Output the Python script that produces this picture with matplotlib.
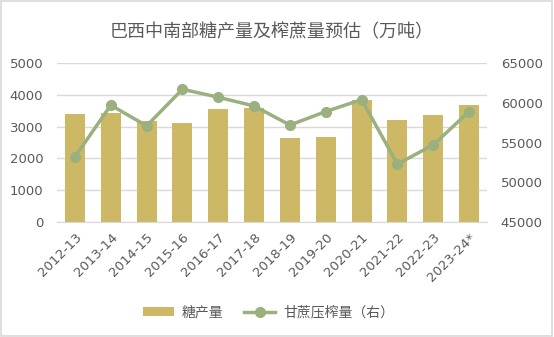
import numpy as np
import matplotlib.pyplot as plt
from matplotlib.patches import Rectangle

plt.rcParams['font.family'] = ['Noto Sans CJK SC', 'DejaVu Sans']

seasons = ['2012-13', '2013-14', '2014-15', '2015-16', '2016-17', '2017-18',
           '2018-19', '2019-20', '2020-21', '2021-22', '2022-23', '2023-24*']
sugar = [3390, 3420, 3190, 3100, 3560, 3600, 2650, 2660, 3850, 3200, 3370, 3680]
cane = [53200, 59700, 57100, 61700, 60700, 59600, 57200, 58900, 60400, 52300, 54700, 58900]

bar_c = '#CDB866'
line_c = '#9BB07F'
txt_c = '#595959'
grid_c = '#D9D9D9'

fig = plt.figure(figsize=(5.54, 3.37), dpi=100)
fig.patches.append(Rectangle((0.002, 0.003), 0.995, 0.994, transform=fig.transFigure,
                             fill=False, edgecolor='#D9D9D9', linewidth=1.2))
ax = fig.add_axes([0.103, 0.341, 0.776, 0.472])
x = np.arange(len(seasons))
ax.bar(x, sugar, width=0.56, color=bar_c, zorder=2, label='糖产量')
ax.set_ylim(0, 5000)
ax.set_yticks(range(0, 5001, 1000))
ax.set_xlim(-0.5, len(seasons) - 0.5)
ax.yaxis.grid(True, color=grid_c, linewidth=1)
ax.set_axisbelow(True)
for s in ['top', 'right', 'left']:
    ax.spines[s].set_visible(False)
ax.spines['bottom'].set_color(grid_c)
ax.tick_params(axis='both', length=0, colors=txt_c)
ax.tick_params(axis='y', pad=10)
ax.set_xticks(x)
ax.set_xticklabels(seasons, rotation=45, ha='right', rotation_mode='anchor')
ax.tick_params(axis='x', pad=6)
for lab in ax.get_xticklabels() + ax.get_yticklabels():
    lab.set_fontfamily('DejaVu Sans')
    lab.set_fontsize(9.5)

ax2 = ax.twinx()
ax2.plot(x, cane, color=line_c, linewidth=2.5, marker='o', markersize=7, label='甘蔗压榨量（右）', zorder=3)
ax2.set_ylim(45000, 65000)
ax2.set_yticks(range(45000, 65001, 5000))
for s in ax2.spines.values():
    s.set_visible(False)
ax2.tick_params(axis='y', length=0, colors=txt_c, pad=10)
for lab in ax2.get_yticklabels():
    lab.set_fontfamily('DejaVu Sans')
    lab.set_fontsize(9.5)

fig.text(0.49, 0.905, '巴西中南部糖产量及榨蔗量预估（万吨）', ha='center', va='center',
         fontsize=13, color=txt_c)

h1, l1 = ax.get_legend_handles_labels()
h2, l2 = ax2.get_legend_handles_labels()
fig.legend(h1 + h2, l1 + l2, loc='center', bbox_to_anchor=(0.485, 0.072), ncol=2,
           frameon=False, fontsize=10, labelcolor=txt_c, handlelength=2.2,
           handleheight=0.6, columnspacing=1.5, handletextpad=0.6)

fig.savefig('out.png', dpi=100)
